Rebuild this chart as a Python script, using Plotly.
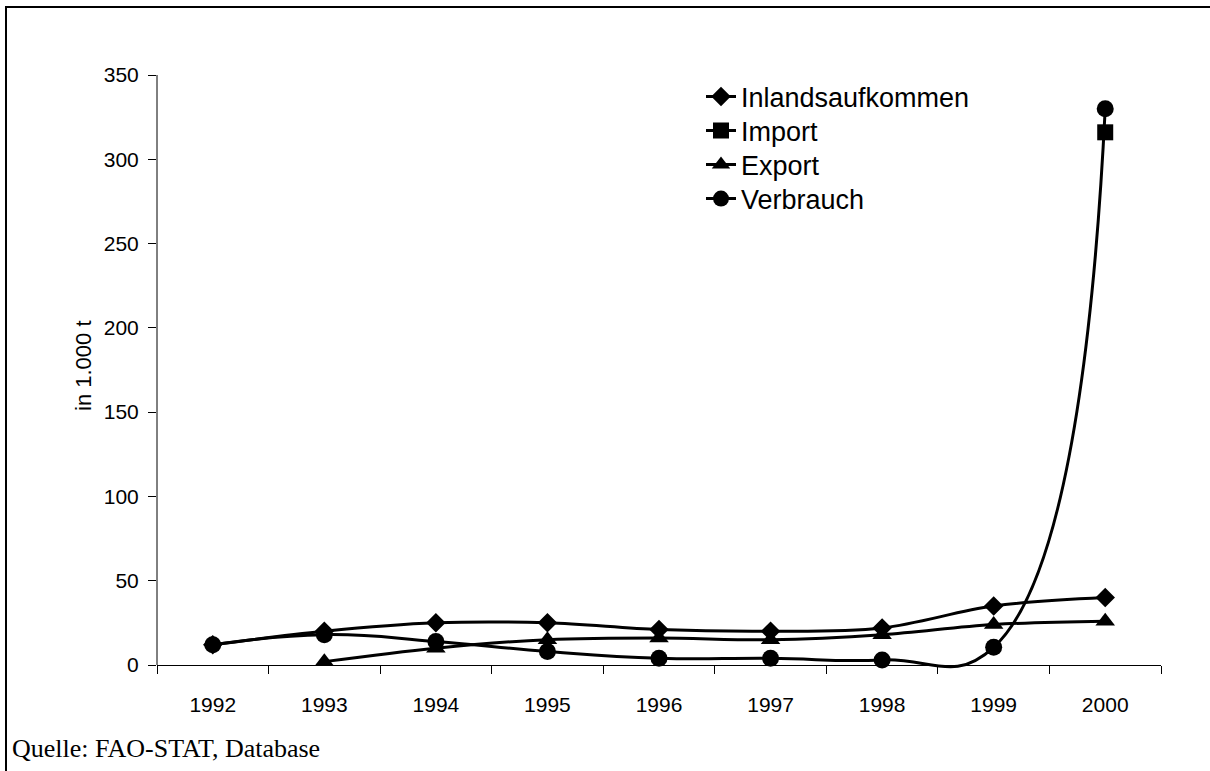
import plotly.graph_objects as go

years = ["1992", "1993", "1994", "1995", "1996", "1997", "1998", "1999", "2000"]
inlandsaufkommen = [12, 20, 25, 25, 21, 20, 22, 35, 40]
import_vals = [None, None, None, None, None, None, None, None, 316]
export_vals = [None, 2, 10, 15, 16, 15, 18, 24, 26]
verbrauch = [12, 18, 14, 8, 4, 4, 3, 10.5, 330]
y_ticks = [0, 50, 100, 150, 200, 250, 300, 350]

W, H = 1210, 771
L, R, T, B = 157, 49, 75, 86
PW = W - L - R
PH = H - T - B
zero_px = 665
y_top = 350
px_per_unit = (zero_px - T) / y_top
y_min = -((H - B) - zero_px) / px_per_unit

def px(xp):
    return (xp - L) / PW

def py(yp):
    return ((H - B) - yp) / PH

font_sans = "Liberation Sans, Arial, sans-serif"
font_serif = "Liberation Serif, Times New Roman, serif"

fig = go.Figure()
series = [
    ("Inlandsaufkommen", inlandsaufkommen, "diamond", 15, 1.0, "legend", 97),
    ("Import", import_vals, "square", 16, 1.0, "legend2", 131),
    ("Export", export_vals, "triangle-up", 17, 1.0, "legend3", 165),
    ("Verbrauch", verbrauch, "circle", 17, 1.3, "legend4", 199),
]
legends = {}
for name, vals, sym, size, smooth, lg, ly in series:
    fig.add_trace(go.Scatter(
        x=years, y=vals, name=name, mode="lines+markers",
        line=dict(color="black", width=3, shape="spline", smoothing=smooth),
        marker=dict(symbol=sym, size=size, color="black"),
        cliponaxis=False, legend=lg,
    ))
    legends[lg] = dict(
        x=px(701), y=py(ly), xanchor="left", yanchor="middle",
        bgcolor="rgba(0,0,0,0)", font=dict(size=27, family=font_sans),
        itemwidth=30,
    )

fig.update_layout(
    width=W, height=H,
    margin=dict(l=L, r=R, t=T, b=B, autoexpand=False),
    paper_bgcolor="white", plot_bgcolor="white",
    font=dict(family=font_sans, size=21, color="black"),
    showlegend=True,
    xaxis=dict(
        type="category", range=[-0.5, 8.5],
        anchor="free", position=py(zero_px),
        showline=True, linecolor="black", linewidth=1,
        ticks="outside", tickson="boundaries", ticklen=8, tickcolor="black",
        showgrid=False, zeroline=False,
        tickfont=dict(size=21, family=font_sans),
        ticklabelstandoff=21,
    ),
    yaxis=dict(
        range=[y_min, y_top], tickvals=y_ticks,
        showline=False, ticks="outside", ticklen=8, tickcolor="black",
        showgrid=False, zeroline=False,
        tickfont=dict(size=21, family=font_sans),
        ticklabelstandoff=5,
    ),
    shapes=[
        dict(type="line", xref="paper", yref="y", x0=0, x1=0, y0=0, y1=y_top,
             line=dict(color="black", width=1)),
        dict(type="line", xref="paper", yref="paper",
             x0=px(6), x1=px(1400), y0=py(7), y1=py(7),
             line=dict(color="black", width=2), layer="above"),
        dict(type="line", xref="paper", yref="paper",
             x0=px(6), x1=px(6), y0=py(6), y1=py(900),
             line=dict(color="black", width=2), layer="above"),
    ],
    annotations=[
        dict(text="in 1.000 t", xref="paper", yref="paper", x=px(84), y=py(366),
             textangle=-90, showarrow=False, xanchor="center", yanchor="middle",
             font=dict(size=22, family=font_sans)),
        dict(text="Quelle: FAO-STAT, Database", xref="paper", yref="paper",
             x=px(10), y=py(748), xanchor="left", yanchor="middle", showarrow=False,
             font=dict(size=26, family=font_serif)),
    ],
    **legends,
)

fig.write_html("out.html", config={"displayModeBar": False},
               post_script="document.body.style.margin='0px';")
